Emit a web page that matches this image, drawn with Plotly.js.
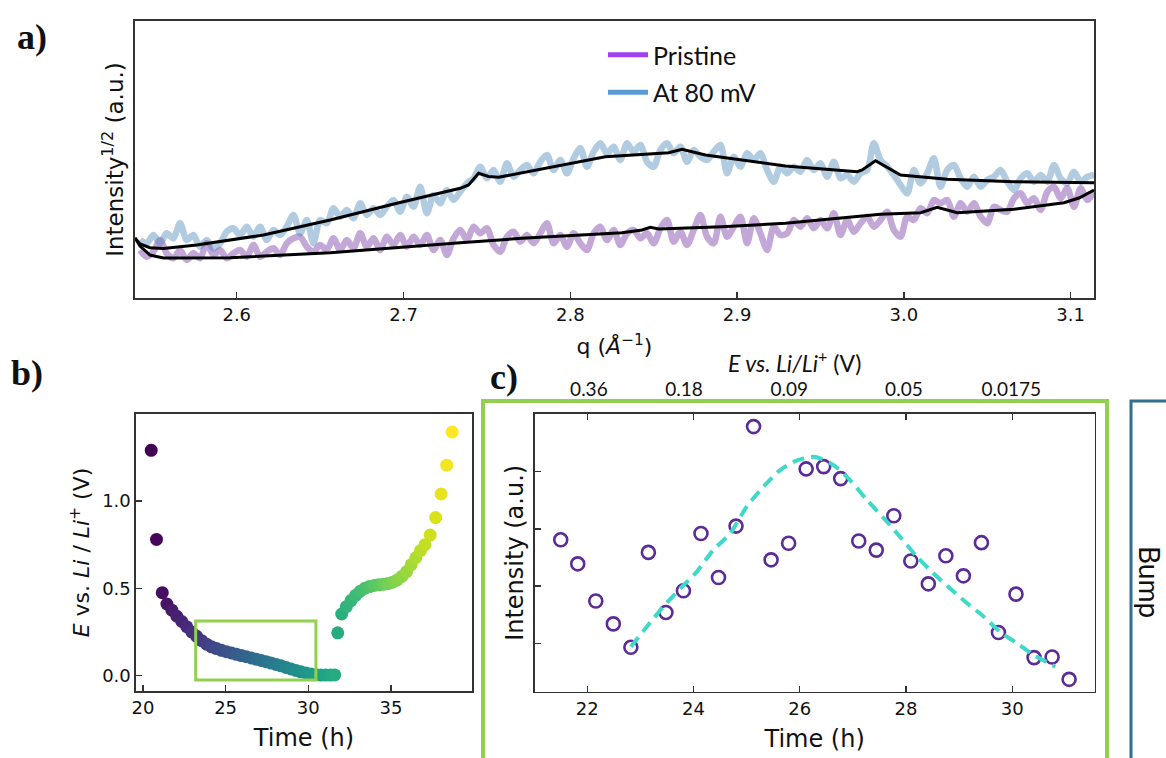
<!DOCTYPE html>
<html><head><meta charset="utf-8">
<script src="https://cdn.plot.ly/plotly-3.0.1.min.js"></script>
<style>html,body{margin:0;padding:0;background:#fff;}#chart{width:1166px;height:758px;}</style>
</head><body><div id="chart"></div>
<script>
// ---------- Panel a: scattering data (sqrt intensity, arbitrary units) ----------
const qGrid = [
2.542,2.546,2.550,2.554,2.558,2.562,2.566,2.570,2.574,2.578,
2.582,2.586,2.590,2.594,2.598,2.602,2.606,2.610,2.614,2.618,
2.622,2.626,2.630,2.634,2.638,2.642,2.646,2.650,2.654,2.658,
2.662,2.666,2.670,2.674,2.678,2.682,2.686,2.690,2.694,2.698,
2.702,2.706,2.710,2.714,2.718,2.722,2.726,2.730,2.734,2.738,
2.742,2.746,2.750,2.754,2.758,2.762,2.766,2.770,2.774,2.778,
2.782,2.786,2.790,2.794,2.798,2.802,2.806,2.810,2.814,2.818,
2.822,2.826,2.830,2.834,2.838,2.842,2.846,2.850,2.854,2.858,
2.862,2.866,2.870,2.874,2.878,2.882,2.886,2.890,2.894,2.898,
2.902,2.906,2.910,2.914,2.918,2.922,2.926,2.930,2.934,2.938,
2.942,2.946,2.950,2.954,2.958,2.962,2.966,2.970,2.974,2.978,
2.982,2.986,2.990,2.994,2.998,3.002,3.006,3.010,3.014,3.018,
3.022,3.026,3.030,3.034,3.038,3.042,3.046,3.050,3.054,3.058,
3.062,3.066,3.070,3.074,3.078,3.082,3.086,3.090,3.094,3.098,
3.102,3.106,3.110,3.114];

const pristineRaw = [
48,41.3,46.3,58,44.7,39.7,48,38,44.7,39.7,
54.7,43,48,39.7,44.7,48,41.3,53,41.3,46.3,
49.7,43,54.7,59.7,61.3,51.3,46.3,53,48,59.7,
48,58,49.7,64.7,51.3,59.7,48,61.3,53,63,
51.3,61.3,53,63,48,58,43,59.7,68,
58,71.3,64.7,69.7,53,46.3,61.3,66.3,56.3,63,
54.7,64.7,74.7,54.7,63,51.3,64.7,54.7,48,64.7,
71.3,58,68,53,64.7,68,59.7,64.7,54.7,69.7,
78,56.3,66.3,53,68,83,61.3,54.7,81.3,61.3,
71.3,81.3,54.7,79.7,64.7,48,71.3,63,
64.7,78,71.3,79.7,69.7,78,69.7,84.7,63,78,
66.3,74.7,81.3,71.3,78,86.3,68,61.3,81.3,78,
89.7,84.7,98,94.7,98,81.3,94.7,86.3,94.7,81.3,
74.7,91.3,88,86.3,99.7,104.7,94.7,99.7,88,106.3,
111.3,99.7,109.7,91.3,109.7,98,106.3];

const mv80Raw = [
58,54.7,63,54.7,64.7,59.7,74.7,58,63,51.3,
58,49.7,54.7,66.3,69.7,63,71.3,61.3,71.3,58,
68,63,71.3,83,64.7,78,54.7,78,74.7,89.7,
81.3,88,79.7,94.7,83,89.7,83,91.3,98,86.3,
101.3,91.3,111.3,84.7,103,94.7,108,98,106.3,
114.7,119.7,131.3,119.7,128,116.3,134.7,121.3,128,133,
124.7,136.3,143,128,138,124.7,139.7,149.7,131.3,146.3,
154.7,144.7,151.3,138,154.7,146.3,153,136.3,131.3,148,
154.7,144.7,151.3,136.3,148,141.3,138,146.3,153,124.7,
141.3,131.3,144.7,138,144.7,128,116.3,131.3,
124.7,131.3,126.3,138,128,134.7,121.3,136.3,119.7,123,
116.3,124.7,128,154.7,138,131.3,123,113,104.7,128,
114.7,124.7,139.7,111.3,128,133,119.7,111.3,121.3,111.3,
118,121.3,128,116.3,108,119.7,124.7,116.3,123,116.3,
133,119.7,114.7,126.3,116.3,121.3,123];

const pristineFitQ = [2.539,2.542,2.548,2.556,2.596,2.656,2.734,2.771,2.831,2.843,2.848,2.853,2.891,2.929,2.986,3.010,3.020,3.032,3.066,3.096,3.105,3.114];
const pristineFitI = [60,52,43,40,40.3,45.3,55.3,59.7,65.3,68,70.7,69,71.3,74.7,83.7,85.3,90.7,85.3,88.7,95.3,100,108];

const mv80FitQ = [2.539,2.542,2.548,2.556,2.576,2.616,2.656,2.696,2.734,2.739,2.745,2.751,2.757,2.791,2.821,2.859,2.867,2.881,2.901,2.929,2.972,2.975,2.983,2.998,3.026,3.066,3.114];
const mv80FitI = [60,54,50.3,49.5,53,63,78,94.7,109.7,113,124.7,121.5,120.7,131.3,141.3,145.3,148.7,143,138.7,132,126.3,128,137.3,123,118.7,116.3,115.3];

const legendNames = ['Pristine','At 80 mV'];

// ---------- Panel b: potential vs time ----------
const bTime = [20.50,20.82,21.17,21.45,21.75,22.05,22.35,22.65,22.95,23.25,23.55,23.85,24.15,24.45,24.75,25.05,25.35,25.65,25.95,26.25,26.55,26.85,27.15,27.45,27.75,28.05,28.35,28.65,28.95,29.25,29.55,29.85,30.15,30.45,30.75,31.05,31.35,31.60,
31.78,32.02,32.30,32.58,32.86,33.14,33.42,33.70,33.98,34.26,34.54,34.82,35.10,35.38,35.66,35.94,36.22,36.50,36.78,37.06,37.37,37.70,38.03,38.37,38.70];
const bPotential = [1.29,0.78,0.475,0.41,0.375,0.34,0.31,0.28,0.25,0.225,0.20,0.18,0.165,0.155,0.145,0.137,0.13,0.122,0.115,0.108,0.101,0.094,0.087,0.08,0.072,0.064,0.056,0.047,0.038,0.03,0.022,0.015,0.009,0.005,0.003,0.003,0.003,0.004,
0.245,0.353,0.395,0.43,0.46,0.483,0.50,0.51,0.516,0.52,0.523,0.527,0.535,0.548,0.568,0.595,0.635,0.675,0.715,0.75,0.805,0.905,1.04,1.205,1.395];
const bBoxTime = [23.19,30.46];
const bBoxPotential = [-0.025,0.313];

// ---------- Panel c: bump intensity vs time ----------
const cTime = [21.50,21.82,22.16,22.49,22.82,23.15,23.48,23.81,24.14,24.47,24.80,25.13,25.46,25.79,26.12,26.45,26.77,27.11,27.44,27.77,28.09,28.42,28.75,29.08,29.42,29.74,30.07,30.41,30.75,31.07];
const cIntensity = [2.81,2.39,1.74,1.34,0.93,2.59,1.54,1.92,2.92,2.15,3.05,4.79,2.46,2.75,4.05,4.09,3.88,2.79,2.63,3.23,2.44,2.04,2.53,2.18,2.76,1.19,1.86,0.75,0.76,0.37];
const cFitTime = [22.82,23.12,23.43,23.75,24.06,24.37,24.69,25.00,25.32,25.63,25.95,26.29,26.63,26.95,27.26,27.58,27.89,28.21,28.52,28.83,29.15,29.46,29.77,30.09,30.40,30.81];
const cFitIntensity = [0.94,1.29,1.64,1.96,2.25,2.63,2.92,3.39,3.74,4.03,4.20,4.26,4.12,3.85,3.51,3.19,2.86,2.51,2.22,1.96,1.70,1.47,1.20,1.00,0.80,0.59];
const topAxisTimes = [22.03,23.82,25.80,27.96,29.98];
const topAxisLabels = ['0.36','0.18','0.09','0.05','0.0175'];
const topAxisTitle = '<i>E vs. Li/Li</i><sup>+</sup> (V)';

// ---------- figure ----------
const W = 1166, H = 758;
const px = v => v / W;
const py = v => (H - v) / H;
const AX = '#333';
const base = {showgrid:false, zeroline:false, showline:true, linecolor:AX, linewidth:1.6,
  ticks:'inside', ticklen:6, tickwidth:1.4, tickcolor:AX,
  tickfont:{family:'DejaVu Sans', size:18, color:'#111'}};

const traces = [
  {x:qGrid, y:pristineRaw, xaxis:'x', yaxis:'y', mode:'lines', line:{color:'rgba(112,48,160,0.42)', width:6.5, shape:'spline', smoothing:0.8}, showlegend:false, hoverinfo:'skip'},
  {x:qGrid, y:mv80Raw, xaxis:'x', yaxis:'y', mode:'lines', line:{color:'rgba(70,130,180,0.42)', width:6.5, shape:'spline', smoothing:0.8}, showlegend:false, hoverinfo:'skip'},
  {x:pristineFitQ, y:pristineFitI, xaxis:'x', yaxis:'y', mode:'lines', line:{color:'#000', width:3}, showlegend:false},
  {x:mv80FitQ, y:mv80FitI, xaxis:'x', yaxis:'y', mode:'lines', line:{color:'#000', width:3}, showlegend:false},
  {x:[null], y:[null], xaxis:'x', yaxis:'y', mode:'lines', name:legendNames[0], legendgroup:'g1', line:{color:'#a040f0', width:5}},
  {x:[null], y:[null], xaxis:'x', yaxis:'y', mode:'lines', name:legendNames[1], legendgroup:'g2', line:{color:'#5b9bd5', width:5}},
  {x:bTime, y:bPotential, xaxis:'x2', yaxis:'y2', mode:'markers', showlegend:false,
   marker:{size:13, color:bTime, colorscale:'Viridis', cmin:bTime[0], cmax:bTime[bTime.length-1], line:{width:0}}},
  {x:cTime, y:cIntensity, xaxis:'x3', yaxis:'y3', mode:'markers', showlegend:false,
   marker:{symbol:'circle-open', size:13, color:'#5b2c97', line:{width:2.6, color:'#5b2c97'}}},
  {x:cFitTime, y:cFitIntensity, xaxis:'x3', yaxis:'y3', mode:'lines', showlegend:false,
   line:{color:'#3ed9c9', width:4, dash:'12px,7px', shape:'spline', smoothing:0.6}},
  {x:[null], y:[null], xaxis:'x4', yaxis:'y3', mode:'markers', showlegend:false, hoverinfo:'skip'}
];

const layout = {
  width:W, height:H, margin:{l:0,r:0,t:0,b:0},
  paper_bgcolor:'#fff', plot_bgcolor:'rgba(0,0,0,0)',
  font:{family:'DejaVu Sans', color:'#111'},
  showlegend:true,
  legend:{x:px(603), y:py(32), xanchor:'left', yanchor:'top', bgcolor:'rgba(0,0,0,0)',
          font:{family:'Lato', size:25, color:'#111'}, tracegroupgap:2, itemwidth:40},
  xaxis:Object.assign({}, base, {domain:[px(135), px(1094)], anchor:'y', range:[2.539,3.114],
          tick0:2.6, dtick:0.1, tickformat:'.1f', mirror:true,
          title:{text:'q (<i>Å</i><sup>−1</sup>)', font:{size:22}, standoff:14}}),
  yaxis:Object.assign({}, base, {domain:[py(298), py(21)], anchor:'x', range:[0,277],
          ticks:'', showticklabels:false, mirror:true,
          title:{text:'Intensity<sup>1/2</sup> (a.u.)', font:{size:23}, standoff:3}}),
  xaxis2:Object.assign({}, base, {domain:[px(136), px(472)], anchor:'y2', range:[19.58,39.9],
          tick0:20, dtick:5, mirror:true,
          title:{text:'Time (h)', font:{size:24}, standoff:12}}),
  yaxis2:Object.assign({}, base, {domain:[py(691), py(414)], anchor:'x2', range:[-0.088,1.498],
          tickvals:[0,0.5,1.0], tickformat:'.1f', mirror:true,
          title:{text:'<i>E</i> vs. <i>Li</i> / <i>Li</i><sup>+</sup> (V)', font:{size:22}, standoff:6}}),
  xaxis3:Object.assign({}, base, {domain:[px(534.7), px(1094.6)], anchor:'y3', range:[21.01,31.55],
          tick0:22, dtick:2, mirror:'ticks',
          title:{text:'Time (h)', font:{size:24}, standoff:12}}),
  yaxis3:Object.assign({}, base, {domain:[py(691.7), py(414)], anchor:'x3', range:[0.154,5.01],
          tickvals:[1,2,3,4], showticklabels:false, mirror:true,
          title:{text:'Intensity (a.u.)', font:{size:24}, standoff:2}}),
  xaxis4:{overlaying:'x3', anchor:'y3', side:'top', range:[21.01,31.55], showgrid:false, zeroline:false,
          showline:false, ticks:'outside', ticklen:9, tickcolor:'rgba(0,0,0,0)', tickvals:topAxisTimes, ticktext:topAxisLabels,
          tickfont:{family:'Lato', size:19, color:'#111'}},
  shapes:[
    {type:'rect', xref:'x2', yref:'y2', x0:bBoxTime[0], x1:bBoxTime[1], y0:bBoxPotential[0], y1:bBoxPotential[1],
     line:{color:'#92d050', width:3}},
    {type:'rect', xref:'paper', yref:'paper', x0:px(483), x1:px(1107), y0:py(775), y1:py(401),
     line:{color:'#92d050', width:4}},
    {type:'path', xref:'paper', yref:'paper',
     path:`M ${px(1131)},${py(775)} L ${px(1131)},${py(401)} L ${px(1180)},${py(401)}`,
     line:{color:'#2f6f8f', width:3}}
  ],
  annotations:[
    {text:'<b>a)</b>', xref:'paper', yref:'paper', x:px(32), y:py(37), xanchor:'center', yanchor:'middle', showarrow:false, font:{family:'Liberation Serif', size:36, color:'#111'}},
    {text:'<b>b)</b>', xref:'paper', yref:'paper', x:px(27), y:py(373), xanchor:'center', yanchor:'middle', showarrow:false, font:{family:'Liberation Serif', size:36, color:'#111'}},
    {text:'<b>c)</b>', xref:'paper', yref:'paper', x:px(504), y:py(377), xanchor:'center', yanchor:'middle', showarrow:false, font:{family:'Liberation Serif', size:36, color:'#111'}},
    {text:topAxisTitle, xref:'paper', yref:'paper', x:px(794), y:py(361), xanchor:'center', yanchor:'middle', showarrow:false, font:{family:'Lato', size:23, color:'#111'}},
    {text:'Bump', xref:'paper', yref:'paper', x:px(1150), y:py(582), xanchor:'center', yanchor:'middle', showarrow:false, textangle:90, font:{family:'Lato', size:28, color:'#111'}}
  ]
};

Plotly.newPlot('chart', traces, layout, {displayModeBar:false, staticPlot:true});
</script></body></html>
